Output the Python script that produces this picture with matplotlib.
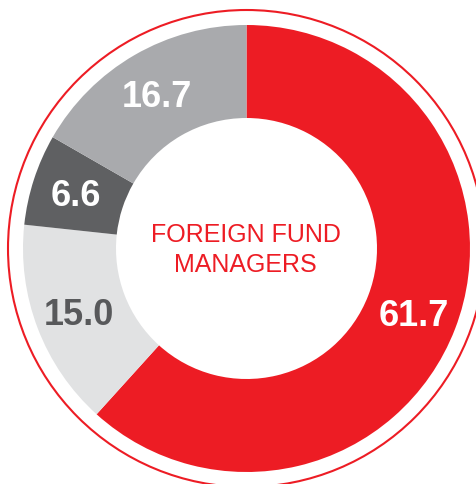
import numpy as np
import matplotlib
matplotlib.use("Agg")
import matplotlib.pyplot as plt
from matplotlib.patches import Circle

# shares, clockwise from 12 o'clock
labels = ["61.7", "15.0", "6.6", "16.7"]
values = [61.7, 15.0, 6.6, 16.7]
colors = ["#ED1C24", "#E1E2E3", "#5F6062", "#A9AAAD"]
label_colors = ["white", "#58595B", "white", "white"]
center_text = "FOREIGN FUND\nMANAGERS"

W, H = 476, 484
cx, cy = 246.5, H - 248.5      # donut centre (pixel units, y up)
R_OUT, R_IN = 223.5, 130.5
R_RING = 238.5
RED = "#ED1C24"

fig = plt.figure(figsize=(W / 100, H / 100), dpi=100)
ax = fig.add_axes([0, 0, 1, 1])

wedges, _ = ax.pie(values, colors=colors, startangle=90, counterclock=False,
                   radius=R_OUT, center=(cx, cy), frame=True,
                   wedgeprops=dict(width=R_OUT - R_IN, linewidth=0))

ax.add_patch(Circle((cx, cy), R_RING, fill=False, edgecolor=RED, lw=1.5))

num_font = ["Liberation Sans Narrow", "Liberation Sans", "DejaVu Sans"]
r_lab = 179
for w, lab, c in zip(wedges, labels, label_colors):
    mid = np.deg2rad((w.theta1 + w.theta2) / 2)
    x = cx + r_lab * np.cos(mid)
    y = cy + r_lab * np.sin(mid)
    ax.text(x, y - 13, lab, ha="center", va="baseline", color=c,
            fontsize=26, fontweight="bold", family=num_font)

ax.text(cx - 1, cy - 1.5, center_text, ha="center", va="center", color=RED,
        fontsize=18, linespacing=1.27, family=["Liberation Sans", "DejaVu Sans"])

ax.set_xlim(0, W)
ax.set_ylim(0, H)
ax.set_aspect("equal")
ax.axis("off")

fig.savefig("out.png", dpi=100)
